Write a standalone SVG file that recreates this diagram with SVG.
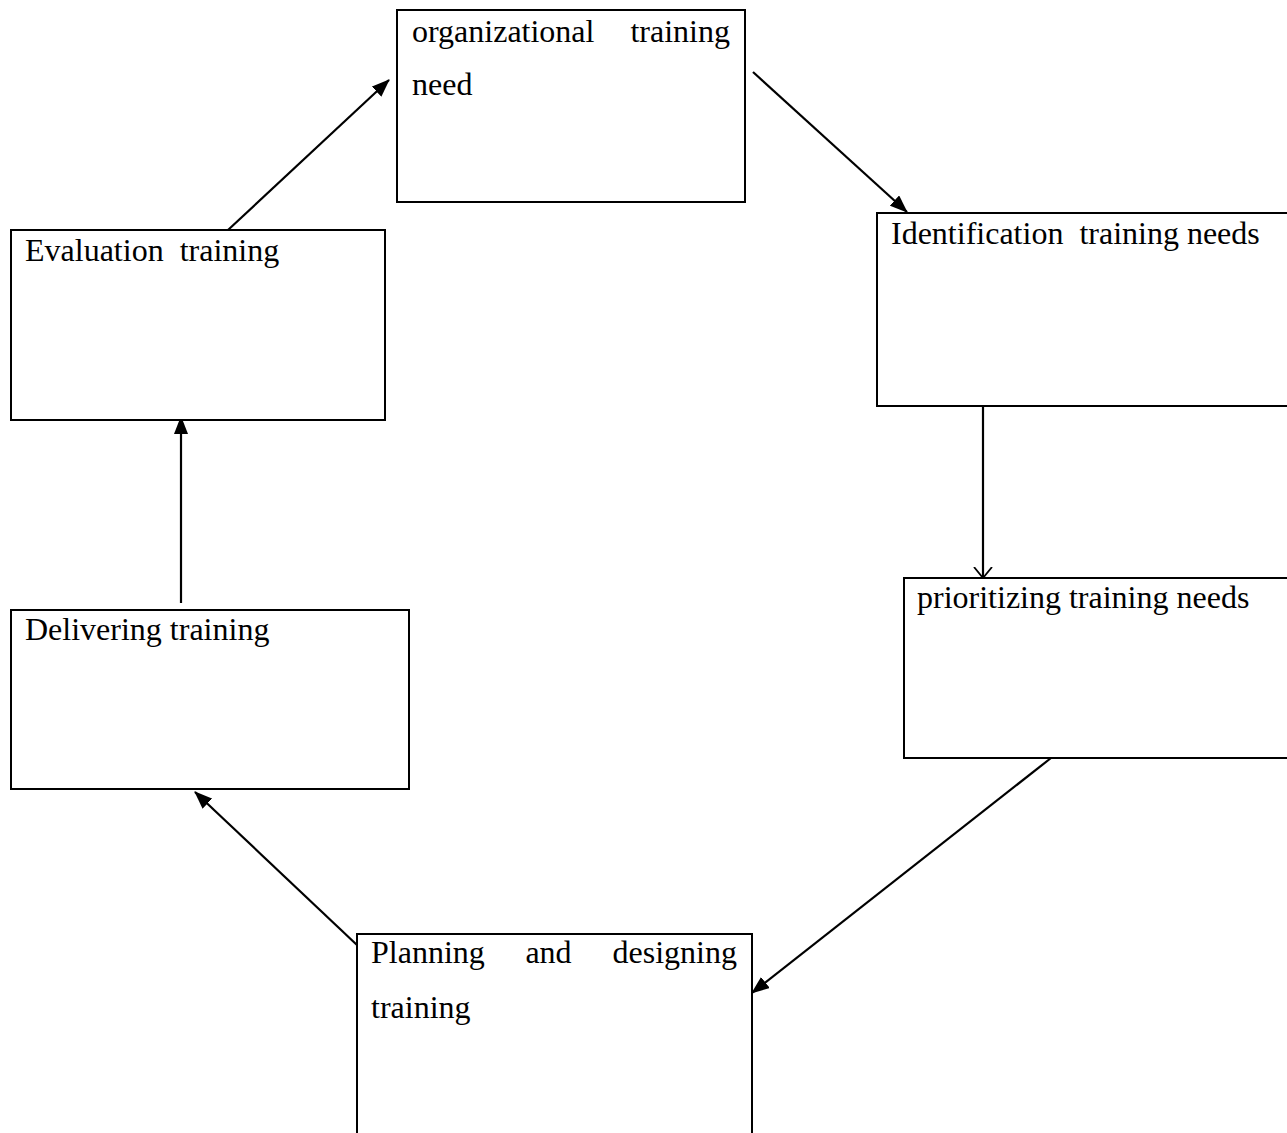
<svg xmlns="http://www.w3.org/2000/svg" width="1287" height="1133" viewBox="0 0 1287 1133">
<defs>
<style>
.box{fill:#fff;stroke:#000;stroke-width:2}
.t{font-family:"Liberation Serif","Times New Roman",serif;font-size:32px;fill:#000}
.c{stroke:#000;stroke-width:2.2;fill:none}
</style>
<marker id="ah" markerWidth="18" markerHeight="14" refX="17" refY="7" orient="auto" markerUnits="userSpaceOnUse" viewBox="0 0 18 14">
<path d="M0,0 L18,7 L0,14 z" fill="#000"/>
</marker>
<marker id="av" markerWidth="12" markerHeight="20" refX="11" refY="10" orient="auto" markerUnits="userSpaceOnUse" viewBox="0 0 12 20">
<path d="M0,1 L11,10 L0,19" fill="none" stroke="#000" stroke-width="1.8"/>
</marker>
</defs>
<rect width="1287" height="1133" fill="#fff"/>
<g id="connectors">
<line class="c" x1="228" y1="230" x2="389" y2="80" marker-end="url(#ah)"/>
<line class="c" x1="753" y1="72" x2="907" y2="212" marker-end="url(#ah)"/>
<line class="c" x1="983" y1="400" x2="983" y2="578" marker-end="url(#av)"/>
<line class="c" x1="1051" y1="758" x2="752" y2="993" marker-end="url(#ah)"/>
<line class="c" x1="357" y1="945" x2="195" y2="792" marker-end="url(#ah)"/>
<line class="c" x1="181" y1="603" x2="181" y2="417" marker-end="url(#ah)"/>
</g>
<g id="node-org">
<rect class="box" x="397" y="10" width="348" height="192"/>
<text class="t" x="412" y="42">organizational</text>
<text class="t" x="730" y="42" text-anchor="end">training</text>
<text class="t" x="412" y="95">need</text>
</g>
<g id="node-identification">
<rect class="box" x="877" y="213" width="420" height="193"/>
<text class="t" x="891" y="244" xml:space="preserve">Identification  training needs</text>
</g>
<g id="node-prioritizing">
<rect class="box" x="904" y="578" width="400" height="180"/>
<text class="t" x="917" y="608">prioritizing training needs</text>
</g>
<g id="node-planning">
<rect class="box" x="357" y="934" width="395" height="220"/>
<text class="t" x="371" y="963">Planning</text>
<text class="t" x="548.5" y="963" text-anchor="middle">and</text>
<text class="t" x="737" y="963" text-anchor="end">designing</text>
<text class="t" x="371" y="1018">training</text>
</g>
<g id="node-evaluation">
<rect class="box" x="11" y="230" width="374" height="190"/>
<text class="t" x="25" y="261" xml:space="preserve">Evaluation  training</text>
</g>
<g id="node-delivering">
<rect class="box" x="11" y="610" width="398" height="179"/>
<text class="t" x="25" y="640">Delivering training</text>
</g>
</svg>
